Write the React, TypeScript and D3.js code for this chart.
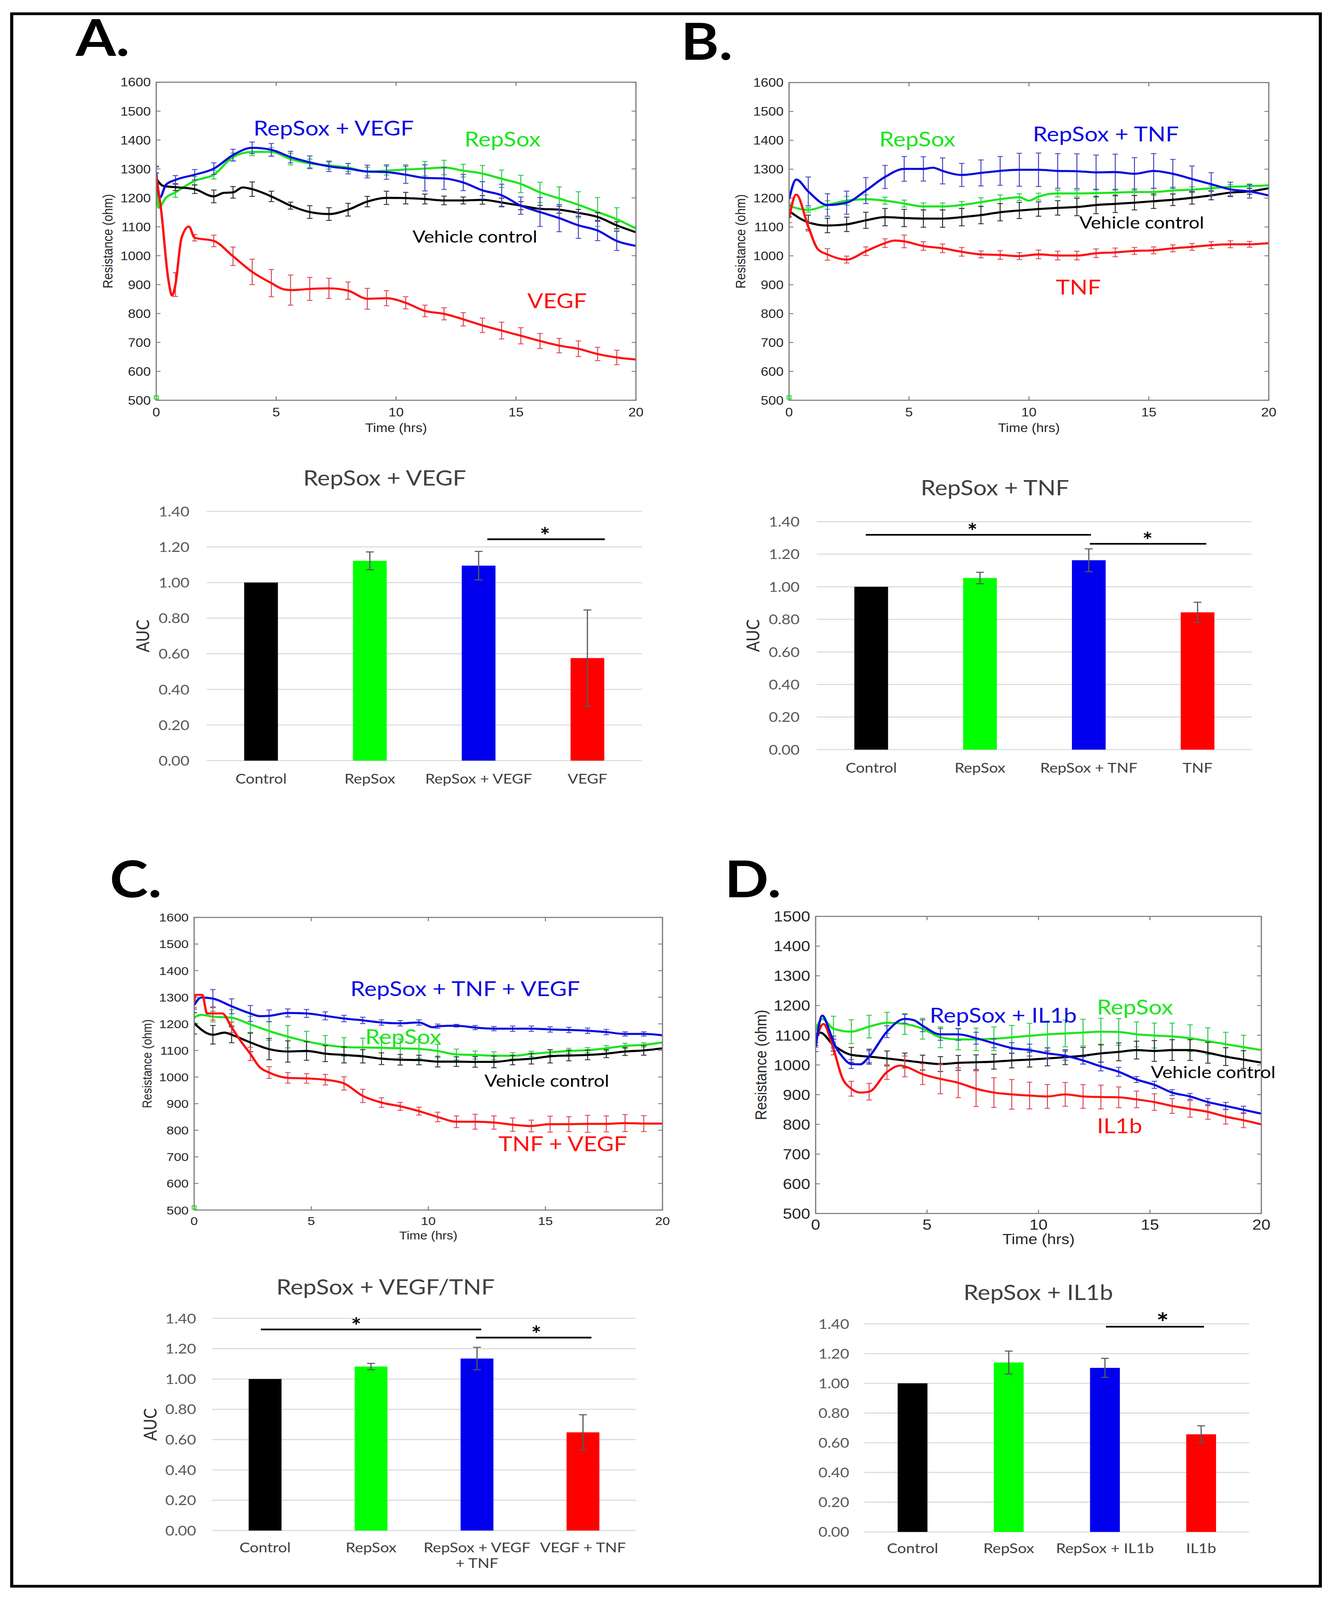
import React from 'react';
import * as d3 from 'd3';

type Pt = [number, number];

const W = 3415;
const H = 4653;

// time points where the error bars sit (every 0.8 h)
const ERR_T = [0, 0.8, 1.6, 2.4, 3.2, 4.0, 4.8, 5.6, 6.4, 7.2, 8.0, 8.8, 9.6, 10.4, 11.2, 12.0, 12.8, 13.6, 14.4, 15.2, 16.0, 16.8, 17.6, 18.4, 19.2];
const X_TICKS = [0, 5, 10, 15, 20];

// ---------- Panel A (RepSox + VEGF) ----------
const A_CTRL: Pt[] = [[0,1266],[0.3,1241],[0.8,1237],[1.6,1230],[2.4,1205],[2.8,1217],[3.2,1219],[3.6,1236],[4.0,1230],[4.8,1205],[5.6,1173],[6.4,1151],[7.2,1144],[8.0,1159],[8.8,1187],[9.6,1200],[10.4,1199],[11.2,1196],[12.0,1191],[12.8,1191],[13.6,1193],[14.4,1184],[15.2,1173],[16.0,1162],[16.8,1159],[17.6,1148],[18.4,1134],[19.2,1105],[20,1081]];
const A_CTRL_ERR = [20,12,15,22,20,25,18,12,22,22,22,18,23,20,17,15,12,15,15,14,12,12,12,15,12];
const A_REPSOX: Pt[] = [[0,1241],[0.1,1166],[0.4,1200],[0.8,1219],[1.6,1259],[2.4,1280],[3.2,1341],[4.0,1359],[4.8,1359],[5.6,1334],[6.4,1319],[7.2,1312],[8.0,1305],[8.8,1291],[9.6,1294],[10.4,1298],[11.2,1301],[12.0,1305],[12.8,1294],[13.6,1284],[14.4,1266],[15.2,1248],[16.0,1219],[16.8,1198],[17.6,1176],[18.4,1151],[19.2,1126],[20,1094]];
const A_REPSOX_ERR = [15,17,15,15,14,13,15,20,15,12,14,15,15,17,25,25,22,28,30,30,35,40,45,50,40];
const A_COMBO: Pt[] = [[0,1284],[0.15,1200],[0.4,1245],[0.8,1262],[1.6,1280],[2.4,1301],[3.2,1348],[4.0,1373],[4.8,1366],[5.6,1341],[6.4,1323],[7.2,1309],[8.0,1301],[8.8,1291],[9.6,1289],[10.4,1280],[11.2,1269],[12.0,1267],[12.8,1253],[13.6,1226],[14.4,1209],[15.2,1173],[16.0,1151],[16.8,1130],[17.6,1105],[18.4,1087],[19.2,1051],[20,1034]];
const A_COMBO_ERR = [23,15,18,20,20,20,22,20,22,18,18,22,25,30,45,38,28,30,38,30,50,47,45,35,33];
const A_VEGF: Pt[] = [[0,1273],[0.2,1160],[0.5,920],[0.66,862],[0.8,900],[1.05,1060],[1.36,1101],[1.6,1062],[2.4,1051],[3.2,998],[4.0,944],[4.8,905],[5.3,884],[5.6,881],[6.4,885],[7.2,887],[8.0,879],[8.8,851],[9.6,853],[10.4,837],[11.2,809],[12.0,799],[12.8,780],[13.6,759],[14.4,741],[15.2,723],[16.0,705],[16.8,689],[17.6,678],[18.4,660],[19.2,648],[20,641]];
const A_VEGF_ERR = [37,41,11,20,32,44,47,52,40,35,30,36,26,21,20,21,23,25,29,28,26,25,27,23,25];

// ---------- Panel B (RepSox + TNF) ----------
const B_CTRL: Pt[] = [[0,1155],[0.8,1116],[1.6,1105],[2.4,1109],[3.2,1123],[4.0,1134],[4.8,1131],[5.6,1129],[6.4,1129],[7.2,1134],[8.0,1141],[8.8,1151],[9.6,1157],[10.4,1162],[11.2,1166],[12.0,1169],[12.8,1176],[13.6,1180],[14.4,1184],[15.2,1189],[16.0,1194],[16.8,1201],[17.6,1209],[18.4,1219],[19.2,1223],[20,1234]];
const B_CTRL_ERR = [20,25,25,25,28,30,30,30,30,30,30,30,28,25,25,30,30,30,25,25,20,22,15,12,10];
const B_REPSOX: Pt[] = [[0,1173],[0.8,1159],[1.6,1176],[2.4,1191],[3.2,1196],[4.0,1191],[4.8,1181],[5.6,1171],[6.4,1171],[7.2,1176],[8.0,1186],[8.8,1196],[9.6,1203],[10.0,1191],[10.4,1205],[11.2,1216],[12.0,1216],[12.8,1217],[13.6,1219],[14.4,1221],[15.2,1221],[16.0,1226],[16.8,1229],[17.6,1234],[18.4,1239],[19.2,1241],[20,1244]];
const B_REPSOX_ERR = [10,8,15,15,15,12,12,12,12,12,15,15,12,12,12,12,14,12,12,12,12,10,8,8,8];
const B_COMBO: Pt[] = [[0,1196],[0.3,1264],[0.8,1223],[1.6,1176],[2.4,1184],[3.2,1226],[4.0,1273],[4.8,1301],[5.6,1301],[6.0,1305],[6.4,1294],[7.2,1280],[8.0,1287],[8.8,1294],[9.6,1298],[10.4,1298],[11.2,1294],[12.0,1293],[12.8,1289],[13.6,1290],[14.4,1284],[15.2,1294],[16.0,1284],[16.8,1266],[17.6,1248],[18.4,1230],[19.2,1223],[20,1209]];
const B_COMBO_ERR = [20,50,39,40,45,40,43,42,45,40,45,50,57,58,60,60,60,62,56,60,50,45,40,25,23];
const B_TNF: Pt[] = [[0,1130],[0.3,1212],[0.8,1101],[1.2,1023],[1.6,1005],[2.4,987],[3.2,1016],[4.0,1044],[4.4,1053],[4.8,1050],[5.6,1034],[6.4,1026],[7.2,1014],[8.0,1005],[8.8,1003],[9.6,999],[10.4,1005],[11.2,1001],[12.0,1001],[12.8,1009],[13.6,1012],[14.4,1017],[15.2,1019],[16.0,1026],[16.8,1031],[17.6,1037],[18.4,1040],[19.2,1040],[20,1044]];
const B_TNF_ERR = [15,15,20,12,15,15,22,15,15,15,12,15,12,15,15,15,15,15,12,12,12,12,12,12,10];

// ---------- Panel C (RepSox + TNF + VEGF) ----------
const C_CTRL: Pt[] = [[0,1202],[0.8,1159],[1.3,1167],[1.6,1159],[2.4,1130],[3.2,1105],[4.0,1096],[4.8,1098],[5.6,1088],[6.4,1083],[7.2,1078],[8.0,1069],[8.8,1065],[9.6,1064],[10.4,1058],[11.2,1058],[12.0,1057],[12.8,1057],[13.6,1064],[14.4,1069],[15.2,1078],[16.0,1081],[16.8,1083],[17.6,1088],[18.4,1096],[19.2,1100],[20,1108]];
const C_CTRL_ERR = [40,35,30,35,40,40,35,30,30,25,22,20,18,20,18,20,22,18,20,25,20,18,15,15,18];
const C_REPSOX: Pt[] = [[0,1223],[0.3,1234],[0.8,1227],[1.6,1223],[2.4,1198],[3.2,1173],[4.0,1152],[4.8,1134],[5.6,1121],[6.4,1113],[7.2,1111],[8.0,1110],[8.8,1108],[9.6,1106],[10.4,1098],[11.2,1085],[12.0,1083],[12.8,1080],[13.6,1080],[14.4,1087],[15.2,1093],[16.0,1098],[16.8,1101],[17.6,1108],[18.4,1117],[19.2,1121],[20,1130]];
const C_REPSOX_ERR = [20,20,30,30,35,42,38,35,35,35,38,35,35,25,20,15,15,12,10,10,10,10,10,10,8];
const C_COMBO: Pt[] = [[0,1270],[0.3,1299],[0.8,1295],[1.6,1266],[2.4,1239],[2.8,1229],[3.2,1230],[4.0,1241],[4.8,1239],[5.6,1230],[6.4,1220],[7.2,1213],[8.0,1205],[8.8,1202],[9.6,1205],[10.2,1187],[10.4,1191],[11.2,1193],[12.0,1186],[12.8,1182],[13.6,1182],[14.4,1182],[15.2,1179],[16.0,1177],[16.8,1174],[17.6,1169],[18.4,1162],[19.2,1162],[20,1157]];
const C_COMBO_ERR = [15,34,28,30,22,15,15,15,12,12,10,10,10,8,5,8,8,10,10,10,10,10,10,8,8];
const C_TNFVEGF: Pt[] = [[0,1281],[0.05,1309],[0.35,1309],[0.55,1239],[0.8,1239],[1.2,1239],[1.6,1187],[2.0,1134],[2.4,1087],[2.8,1037],[3.2,1017],[4.0,997],[4.8,995],[5.6,990],[6.4,976],[7.2,929],[8.0,904],[8.8,890],[9.6,872],[10.4,850],[11.2,832],[12.0,832],[12.8,829],[13.6,821],[14.4,816],[15.2,823],[16.0,823],[16.8,824],[17.6,824],[18.4,827],[19.2,825],[20,825]];
const C_TNFVEGF_ERR = [20,25,20,25,22,20,18,20,25,25,18,15,15,18,22,28,25,25,22,30,28,32,30,32,30];

// ---------- Panel D (RepSox + IL1b) ----------
const D_CTRL: Pt[] = [[0,1086],[0.2,1109],[0.8,1067],[1.6,1034],[2.4,1028],[3.2,1022],[4.0,1015],[4.8,1008],[5.6,1003],[6.4,1007],[7.2,1009],[8.0,1011],[8.8,1015],[9.6,1018],[10.4,1022],[11.2,1026],[12.0,1031],[12.8,1039],[13.6,1044],[14.4,1050],[15.2,1047],[16.0,1050],[16.8,1050],[17.6,1041],[18.4,1028],[19.2,1018],[20,1008]];
const D_CTRL_ERR = [20,20,25,25,25,25,25,25,25,25,25,25,25,25,25,28,30,30,30,35,35,35,35,30,30];
const D_REPSOX: Pt[] = [[0,1116],[0.3,1155],[0.8,1122],[1.6,1112],[2.4,1129],[3.2,1142],[4.0,1138],[4.8,1122],[5.6,1093],[6.4,1086],[7.2,1086],[8.0,1088],[8.8,1093],[9.6,1098],[10.4,1103],[11.2,1106],[12.0,1109],[12.8,1112],[13.6,1111],[14.4,1103],[15.2,1099],[16.0,1096],[16.8,1090],[17.6,1080],[18.4,1070],[19.2,1060],[20,1050]];
const D_REPSOX_ERR = [20,42,40,38,35,35,35,35,35,38,40,40,42,45,45,45,45,45,42,42,45,45,45,40,40];
const D_COMBO: Pt[] = [[0,1060],[0.3,1166],[0.6,1119],[0.8,1077],[1.2,1028],[1.6,1003],[2.0,1002],[2.4,1028],[3.2,1112],[4.0,1155],[4.4,1151],[4.8,1132],[5.6,1103],[6.4,1103],[7.2,1090],[8.0,1073],[8.8,1057],[9.6,1050],[10.4,1039],[11.2,1031],[12.0,1015],[12.8,995],[13.6,977],[14.4,951],[15.2,933],[16.0,907],[16.8,894],[17.6,875],[18.4,862],[19.2,849],[20,836]];
const D_COMBO_ERR = [15,20,15,20,20,15,20,20,20,20,15,18,20,18,15,12,15,15,10,12,10,10,12,12,12];
const D_IL1B: Pt[] = [[0,1080],[0.35,1138],[0.8,1054],[1.2,956],[1.6,920],[2.0,907],[2.4,910],[3.2,976],[3.8,998],[4.0,995],[4.8,969],[5.6,953],[6.4,940],[7.2,920],[8.0,907],[8.8,901],[9.6,897],[10.4,894],[11.2,901],[12.0,894],[12.8,892],[13.6,891],[14.4,884],[15.2,875],[16.0,862],[16.8,852],[17.6,842],[18.4,826],[19.2,814],[20,800]];
const D_IL1B_ERR = [20,20,25,28,25,35,35,50,50,60,50,50,45,40,40,40,40,35,28,28,25,28,25,25,25];

// ---------- AUC bar charts ----------
const BAR_TICKS = [0, 0.2, 0.4, 0.6, 0.8, 1.0, 1.2, 1.4];
const AUC_A = [1.0, 1.122, 1.095, 0.576];
const AUC_A_ERR = [0, 0.05, 0.08, 0.27];
const AUC_B = [1.0, 1.054, 1.163, 0.843];
const AUC_B_ERR = [0, 0.035, 0.07, 0.062];
const AUC_C = [1.0, 1.082, 1.135, 0.648];
const AUC_C_ERR = [0, 0.021, 0.074, 0.116];
const AUC_D = [1.0, 1.14, 1.104, 0.657];
const AUC_D_ERR = [0, 0.077, 0.064, 0.057];
const CATS_A = ['Control', 'RepSox', 'RepSox + VEGF', 'VEGF'];
const CATS_B = ['Control', 'RepSox', 'RepSox + TNF', 'TNF'];
const CATS_C = ['Control', 'RepSox', 'RepSox + VEGF\n+ TNF', 'VEGF + TNF'];
const CATS_D = ['Control', 'RepSox', 'RepSox + IL1b', 'IL1b'];
// significance brackets: [from, to, height, star position] (positions in category units)
const SIG_A = [[2.08, 3.16, 1.243, 2.61]];
const SIG_B = [[-0.05, 2.02, 1.319, 0.93], [2.01, 3.08, 1.264, 2.54]];
const SIG_C = [[-0.04, 2.04, 1.327, 0.86], [1.99, 3.08, 1.273, 2.56]];
const SIG_D = [[2.01, 3.03, 1.381, 2.6]];
const BAR_COLORS = ['#000000', '#00ff00', '#0000ee', '#ff0000'];

const ARIAL = "'Liberation Sans', Arial, sans-serif";
const CALIBRI = "Lato, 'Noto Sans', sans-serif";

const BLACK = '#000000';
const GREEN = '#1de61d';
const BLUE = '#0a0ae0';
const RED = '#ff1010';
const ERR_COL: Record<string, string> = {
  [BLACK]: '#333333',
  [GREEN]: '#30c850',
  [BLUE]: '#4a4ac4',
  [RED]: '#dc4c5a',
};

const LINE_PANELS = [
  {
    id: 'A', x0: 400, x1: 1628, y0: 239, y1: 1164, yMax: 1600, tickFs: 35, labelFs: 35, yLabelX: 275,
    xTickDy: 47, xLabelDy: 92, marker: true,
    series: [
      { pts: A_REPSOX, err: A_REPSOX_ERR, color: GREEN },
      { pts: A_CTRL, err: A_CTRL_ERR, color: BLACK },
      { pts: A_COMBO, err: A_COMBO_ERR, color: BLUE },
      { pts: A_VEGF, err: A_VEGF_ERR, color: RED },
    ],
    notes: [
      { text: 'RepSox + VEGF', x: 649, y: 394, color: BLUE, fs: 60 },
      { text: 'RepSox', x: 1189, y: 426, color: GREEN, fs: 60 },
      { text: 'Vehicle control', x: 1056, y: 706, color: BLACK, fs: 49 },
      { text: 'VEGF', x: 1350, y: 896, color: RED, fs: 60 },
    ],
  },
  {
    id: 'B', x0: 2020, x1: 3248, y0: 240, y1: 1164, yMax: 1600, tickFs: 35, labelFs: 35, yLabelX: 1895,
    xTickDy: 47, xLabelDy: 92, marker: true,
    series: [
      { pts: B_REPSOX, err: B_REPSOX_ERR, color: GREEN },
      { pts: B_CTRL, err: B_CTRL_ERR, color: BLACK },
      { pts: B_COMBO, err: B_COMBO_ERR, color: BLUE },
      { pts: B_TNF, err: B_TNF_ERR, color: RED },
    ],
    notes: [
      { text: 'RepSox', x: 2251, y: 426, color: GREEN, fs: 60 },
      { text: 'RepSox + TNF', x: 2644, y: 411, color: BLUE, fs: 60 },
      { text: 'Vehicle control', x: 2763, y: 665, color: BLACK, fs: 49 },
      { text: 'TNF', x: 2703, y: 857, color: RED, fs: 60 },
    ],
  },
  {
    id: 'C', x0: 497, x1: 1696, y0: 2668, y1: 3519, yMax: 1600, tickFs: 34, labelFs: 33, yLabelX: 376,
    xTickDy: 43, xLabelDy: 85, marker: true,
    series: [
      { pts: C_REPSOX, err: C_REPSOX_ERR, color: GREEN },
      { pts: C_CTRL, err: C_CTRL_ERR, color: BLACK },
      { pts: C_COMBO, err: C_COMBO_ERR, color: BLUE },
      { pts: C_TNFVEGF, err: C_TNFVEGF_ERR, color: RED },
    ],
    notes: [
      { text: 'RepSox + TNF + VEGF', x: 897, y: 2897, color: BLUE, fs: 60 },
      { text: 'RepSox', x: 935, y: 3036, color: GREEN, fs: 60 },
      { text: 'Vehicle control', x: 1240, y: 3160, color: BLACK, fs: 49 },
      { text: 'TNF + VEGF', x: 1276, y: 3348, color: RED, fs: 60 },
    ],
  },
  {
    id: 'D', x0: 2088, x1: 3229, y0: 2665, y1: 3529, yMax: 1500, tickFs: 42, labelFs: 41, yLabelX: 1947,
    xTickDy: 47, xLabelDy: 89, marker: false,
    series: [
      { pts: D_REPSOX, err: D_REPSOX_ERR, color: GREEN },
      { pts: D_CTRL, err: D_CTRL_ERR, color: BLACK },
      { pts: D_IL1B, err: D_IL1B_ERR, color: RED },
      { pts: D_COMBO, err: D_COMBO_ERR, color: BLUE },
    ],
    notes: [
      { text: 'RepSox + IL1b', x: 2380, y: 2974, color: BLUE, fs: 60 },
      { text: 'RepSox', x: 2808, y: 2950, color: GREEN, fs: 60 },
      { text: 'Vehicle control', x: 2946, y: 3135, color: BLACK, fs: 49 },
      { text: 'IL1b', x: 2808, y: 3296, color: RED, fs: 60 },
    ],
  },
];

const BAR_PANELS = [
  { id: 'a', gx0: 529, gx1: 1643, gy0: 1487, gy1: 2212, vals: AUC_A, errs: AUC_A_ERR, cats: CATS_A, sig: SIG_A,
    title: 'RepSox + VEGF', titleX: 985, titleY: 1412, aucX: 365, tickRight: 485, catDy: 67, starFs: 62 },
  { id: 'b', gx0: 2091, gx1: 3205, gy0: 1517, gy1: 2180, vals: AUC_B, errs: AUC_B_ERR, cats: CATS_B, sig: SIG_B,
    title: 'RepSox + TNF', titleX: 2547, titleY: 1440, aucX: 1927, tickRight: 2047, catDy: 67, starFs: 62 },
  { id: 'c', gx0: 543, gx1: 1628, gy0: 3834, gy1: 4451, vals: AUC_C, errs: AUC_C_ERR, cats: CATS_C, sig: SIG_C,
    title: 'RepSox + VEGF/TNF', titleX: 987, titleY: 3765, aucX: 384, tickRight: 502, catDy: 63, starFs: 62 },
  { id: 'd', gx0: 2213, gx1: 3198, gy0: 3850, gy1: 4455, vals: AUC_D, errs: AUC_D_ERR, cats: CATS_D, sig: SIG_D,
    title: 'RepSox + IL1b', titleX: 2658, titleY: 3781, aucX: null, tickRight: 2174, catDy: 62, starFs: 76 },
];

const LETTERS = [
  { t: 'A.', x: 194, y: 162 },
  { t: 'B.', x: 1743, y: 174 },
  { t: 'C.', x: 281, y: 2609 },
  { t: 'D.', x: 1855, y: 2609 },
];

function LinePanel({ p }: { p: any }) {
  const x = d3.scaleLinear().domain([0, 20]).range([p.x0, p.x1]);
  const y = d3.scaleLinear().domain([500, p.yMax]).range([p.y1, p.y0]);
  const yTicks = y.ticks((p.yMax - 500) / 100);
  const line = d3.line<Pt>().x(d => x(d[0])).y(d => y(d[1])).curve(d3.curveMonotoneX);
  const tk = 11;
  const frame = '#7a7a7a';
  const clipId = `clip-${p.id}`;
  return (
    <g>
      <defs>
        <clipPath id={clipId}>
          <rect x={p.x0} y={p.y0} width={p.x1 - p.x0} height={p.y1 - p.y0} />
        </clipPath>
      </defs>
      {/* tick marks on all four sides (MATLAB box) */}
      {yTicks.map(v => (
        <g key={`yt${v}`} stroke={frame} strokeWidth={2.5}>
          <line x1={p.x0} x2={p.x0 + tk} y1={y(v)} y2={y(v)} />
          <line x1={p.x1} x2={p.x1 - tk} y1={y(v)} y2={y(v)} />
        </g>
      ))}
      {X_TICKS.map(v => (
        <g key={`xt${v}`} stroke={frame} strokeWidth={2.5}>
          <line x1={x(v)} x2={x(v)} y1={p.y1} y2={p.y1 - tk} />
          <line x1={x(v)} x2={x(v)} y1={p.y0} y2={p.y0 + tk} />
        </g>
      ))}
      <g clipPath={`url(#${clipId})`}>
        {p.series.map((s: any, si: number) => (
          <g key={si}>
            {ERR_T.map((t, i) => {
              const pt = s.pts.find((d: Pt) => Math.abs(d[0] - t) < 1e-6);
              if (!pt) return null;
              const e = s.err[i];
              const cx = x(t);
              const yt = y(pt[1] + e);
              const yb = y(pt[1] - e);
              return (
                <g key={i} stroke={ERR_COL[s.color]} strokeWidth={2.6}>
                  <line x1={cx} x2={cx} y1={yt} y2={yb} />
                  <line x1={cx - 7} x2={cx + 7} y1={yt} y2={yt} />
                  <line x1={cx - 7} x2={cx + 7} y1={yb} y2={yb} />
                </g>
              );
            })}
            <path d={line(s.pts) || ''} fill="none" stroke={s.color} strokeWidth={6} strokeLinejoin="round" />
          </g>
        ))}
      </g>
      <rect x={p.x0} y={p.y0} width={p.x1 - p.x0} height={p.y1 - p.y0} fill="none" stroke={frame} strokeWidth={3} />
      {p.marker && (
        <rect x={x(0) - 5} y={y(510) - 5} width={10} height={10} fill="none" stroke="#22dd22" strokeWidth={2.5} />
      )}
      <g fontFamily={ARIAL} fontSize={p.tickFs} fill="#262626">
        {yTicks.map(v => (
          <text key={`yl${v}`} x={p.x0 - 14} y={y(v)} dy="0.36em" textAnchor="end">{v}</text>
        ))}
        {X_TICKS.map(v => (
          <text key={`xl${v}`} x={x(v)} y={p.y1 + p.xTickDy} textAnchor="middle">{v}</text>
        ))}
      </g>
      <g fontFamily={ARIAL} fontSize={p.labelFs} fill="#262626">
        <text x={(p.x0 + p.x1) / 2} y={p.y1 + p.xLabelDy} textAnchor="middle">Time (hrs)</text>
        <text
          transform={`translate(${p.yLabelX},${(p.y0 + p.y1) / 2}) rotate(-90)`}
          dy="0.36em"
          textAnchor="middle"
        >
          Resistance (ohm)
        </text>
      </g>
      <g fontFamily={CALIBRI}>
        {p.notes.map((n: any, i: number) => (
          <text key={i} x={n.x} y={n.y} fill={n.color} fontSize={n.fs}>{n.text}</text>
        ))}
      </g>
    </g>
  );
}

function BarPanel({ b }: { b: any }) {
  const idx = b.cats.map((_: string, i: number) => String(i));
  const x = d3.scaleBand().domain(idx).range([b.gx0, b.gx1]).paddingInner(0.69).paddingOuter(0.345);
  const y = d3.scaleLinear().domain([0, 1.4]).range([b.gy1, b.gy0]);
  const center = (i: number) => (x(String(i)) as number) + x.bandwidth() / 2;
  const sx = d3.scaleLinear().domain([0, 3]).range([center(0), center(3)]);
  const fmt = d3.format('.2f');
  return (
    <g fontFamily={CALIBRI}>
      <text x={b.titleX} y={b.titleY} textAnchor="middle" fontSize={61} fill="#404040">{b.title}</text>
      {BAR_TICKS.map(v => (
        <g key={v}>
          <line x1={b.gx0} x2={b.gx1} y1={y(v)} y2={y(v)} stroke="#d9d9d9" strokeWidth={3} />
          <text x={b.tickRight} y={y(v)} dy="0.36em" textAnchor="end" fontSize={40} fill="#595959">{fmt(v)}</text>
        </g>
      ))}
      {b.vals.map((v: number, i: number) => {
        const e = b.errs[i];
        const cx = center(i);
        return (
          <g key={i}>
            <rect x={x(String(i))} y={y(v)} width={x.bandwidth()} height={y(0) - y(v)} fill={BAR_COLORS[i]} />
            {e > 0 && (
              <g stroke="#595959" strokeWidth={3}>
                <line x1={cx} x2={cx} y1={y(v + e)} y2={y(v - e)} />
                <line x1={cx - 10} x2={cx + 10} y1={y(v + e)} y2={y(v + e)} />
                <line x1={cx - 10} x2={cx + 10} y1={y(v - e)} y2={y(v - e)} />
              </g>
            )}
            <text x={cx} y={y(0) + b.catDy} textAnchor="middle" fontSize={40} fill="#404040">
              {b.cats[i].split('\n').map((s: string, k: number) => (
                <tspan key={k} x={cx} dy={k === 0 ? 0 : 46}>{s}</tspan>
              ))}
            </text>
          </g>
        );
      })}
      {b.sig.map((s: number[], i: number) => (
        <g key={i}>
          <line x1={sx(s[0])} x2={sx(s[1])} y1={y(s[2])} y2={y(s[2])} stroke="#000" strokeWidth={5} />
          <text x={sx(s[3])} y={y(s[2]) + b.starFs * 0.2} textAnchor="middle" fontSize={b.starFs} fontWeight={700} fill="#000">*</text>
        </g>
      ))}
      {b.aucX !== null && (
        <text
          transform={`translate(${b.aucX},${(b.gy0 + b.gy1) / 2}) rotate(-90)`}
          dy="0.36em"
          textAnchor="middle"
          fontSize={46}
          fill="#333"
        >
          AUC
        </text>
      )}
    </g>
  );
}

export default function App() {
  // the browser viewport is shorter than the figure, so the drawing is fitted to it
  return (
    <>
      <style>{'html,body{margin:0;padding:0;background:#fff;overflow:hidden;}'}</style>
      <svg
        width={W}
        viewBox={`0 0 ${W} ${H}`}
        preserveAspectRatio="none"
        style={{ display: 'block', width: '100vw', height: '100vh' }}
      >
        <rect width={W} height={H} fill="#ffffff" />
        <rect x={30} y={40} width={3350} height={4573} fill="none" stroke="#000" strokeWidth={8} />
        {LETTERS.map(l => (
          <text key={l.t} x={l.x} y={l.y} fontFamily={CALIBRI} fontWeight={700} fontSize={148} fill="#000">{l.t}</text>
        ))}
        {LINE_PANELS.map(p => <LinePanel key={p.id} p={p} />)}
        {BAR_PANELS.map(b => <BarPanel key={b.id} b={b} />)}
      </svg>
    </>
  );
}
